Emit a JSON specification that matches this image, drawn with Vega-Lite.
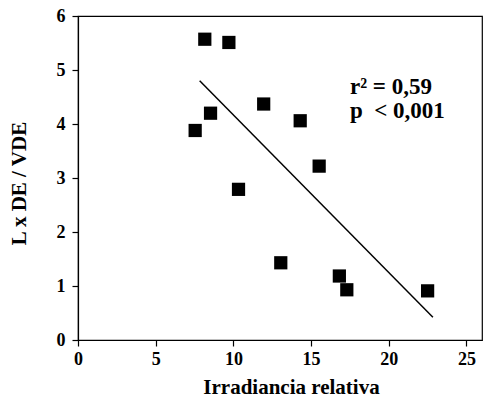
{
  "$schema": "https://vega.github.io/schema/vega-lite/v6.json",
  "autosize": "none",
  "width": 404,
  "height": 324,
  "padding": {"left": 78, "top": 16, "right": 11, "bottom": 66},
  "background": "white",
  "config": {
    "view": {"stroke": "black", "strokeWidth": 1.2},
    "axis": {
      "grid": false,
      "domainColor": "black",
      "domainWidth": 1.2,
      "tickColor": "black",
      "tickWidth": 1.2,
      "tickSize": 6,
      "labelFont": "Liberation Serif",
      "labelFontWeight": "bold",
      "labelFontSize": 18,
      "labelColor": "black",
      "titleFont": "Liberation Serif",
      "titleFontWeight": "bold",
      "titleFontSize": 21,
      "titleColor": "black"
    }
  },
  "datasets": {
    "points": [
      {"x": 7.54, "y": 3.88},
      {"x": 8.16, "y": 5.57},
      {"x": 8.53, "y": 4.2},
      {"x": 9.71, "y": 5.51},
      {"x": 10.33, "y": 2.79},
      {"x": 11.95, "y": 4.37},
      {"x": 13.05, "y": 1.43},
      {"x": 14.3, "y": 4.06},
      {"x": 15.52, "y": 3.22},
      {"x": 16.82, "y": 1.185},
      {"x": 17.3, "y": 0.93},
      {"x": 22.5, "y": 0.91}
    ],
    "fit": [
      {"x": 7.83, "y": 4.8},
      {"x": 22.84, "y": 0.42}
    ],
    "labels": [
      {"x": 17.5, "y": 4.69, "t": "r² = 0,59"},
      {"x": 17.5, "y": 4.25, "t": "p\u00a0 < 0,001"}
    ]
  },
  "layer": [
    {
      "data": {"name": "fit"},
      "mark": {"type": "line", "color": "black", "strokeWidth": 1.5},
      "encoding": {
        "x": {"field": "x", "type": "quantitative", "scale": {"domain": [0, 25]},
          "axis": {"values": [0, 5, 10, 15, 20, 25], "format": "d", "title": "Irradiancia relativa", "labelPadding": 4, "titlePadding": 8, "titleX": 213, "labelFlush": false}},
        "y": {"field": "y", "type": "quantitative", "scale": {"domain": [0, 6]},
          "axis": {"values": [0, 1, 2, 3, 4, 5, 6], "format": "d", "title": "L x DE / VDE", "labelPadding": 7, "titlePadding": 27, "titleY": 167, "labelFlush": false}}
      }
    },
    {
      "data": {"name": "points"},
      "mark": {"type": "square", "color": "black", "opacity": 1, "size": 175, "filled": true},
      "encoding": {
        "x": {"field": "x", "type": "quantitative"},
        "y": {"field": "y", "type": "quantitative"}
      }
    },
    {
      "data": {"name": "labels"},
      "mark": {"type": "text", "align": "left", "baseline": "middle", "font": "Liberation Serif", "fontSize": 23, "fontWeight": "bold", "color": "black"},
      "encoding": {
        "x": {"field": "x", "type": "quantitative"},
        "y": {"field": "y", "type": "quantitative"},
        "text": {"field": "t"}
      }
    }
  ]
}
